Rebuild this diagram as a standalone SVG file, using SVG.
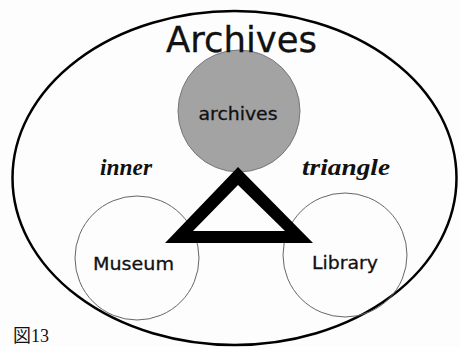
<svg xmlns="http://www.w3.org/2000/svg" width="460" height="347" viewBox="0 0 460 347">
<style>
.sans{font-family:"DejaVu Sans","Liberation Sans",sans-serif;fill:#111;text-anchor:middle;stroke:#111;stroke-width:0.3}
.ital{font-family:"Liberation Serif",serif;font-style:italic;font-weight:bold;fill:#111;font-size:24px;text-anchor:middle}
.ring{fill:none;stroke:#666;stroke-width:1}
</style>
<rect width="460" height="347" fill="#fdfdfd"/>
<g id="archives-outer">
<ellipse cx="234.5" cy="178" rx="222" ry="167" fill="none" stroke="#000" stroke-width="2.5"/>
</g>
<g id="archives-inner">
<circle cx="239" cy="111" r="61" fill="#a3a3a3" stroke="#777" stroke-width="1"/>
<text class="sans" x="238" y="120" font-size="17.5" textLength="79" lengthAdjust="spacingAndGlyphs">archives</text>
</g>
<g id="title">
<text class="sans" x="241.5" y="52" font-size="36" textLength="151" lengthAdjust="spacingAndGlyphs">Archives</text>
</g>
<g id="museum">
<circle class="ring" cx="137" cy="258" r="62"/>
<text class="sans" x="133.5" y="270" font-size="18" textLength="81" lengthAdjust="spacingAndGlyphs">Museum</text>
</g>
<g id="library">
<circle class="ring" cx="345" cy="255" r="62"/>
<text class="sans" x="345" y="269" font-size="18" textLength="66" lengthAdjust="spacingAndGlyphs">Library</text>
</g>
<g id="connectors">
<path d="M238,167 L313,243 L165,243 Z M238,185 L193,231 L285,231 Z" fill="#000" fill-rule="evenodd"/>
</g>
<g id="labels">
<text class="ital" x="126" y="175" textLength="52" lengthAdjust="spacingAndGlyphs">inner</text>
<text class="ital" x="346" y="175" textLength="88" lengthAdjust="spacingAndGlyphs">triangle</text>
</g>
<g id="caption">
<text x="13" y="342" font-size="18" font-family="'Liberation Serif','Noto Sans CJK JP',serif" fill="#111">図13</text>
</g>
</svg>
